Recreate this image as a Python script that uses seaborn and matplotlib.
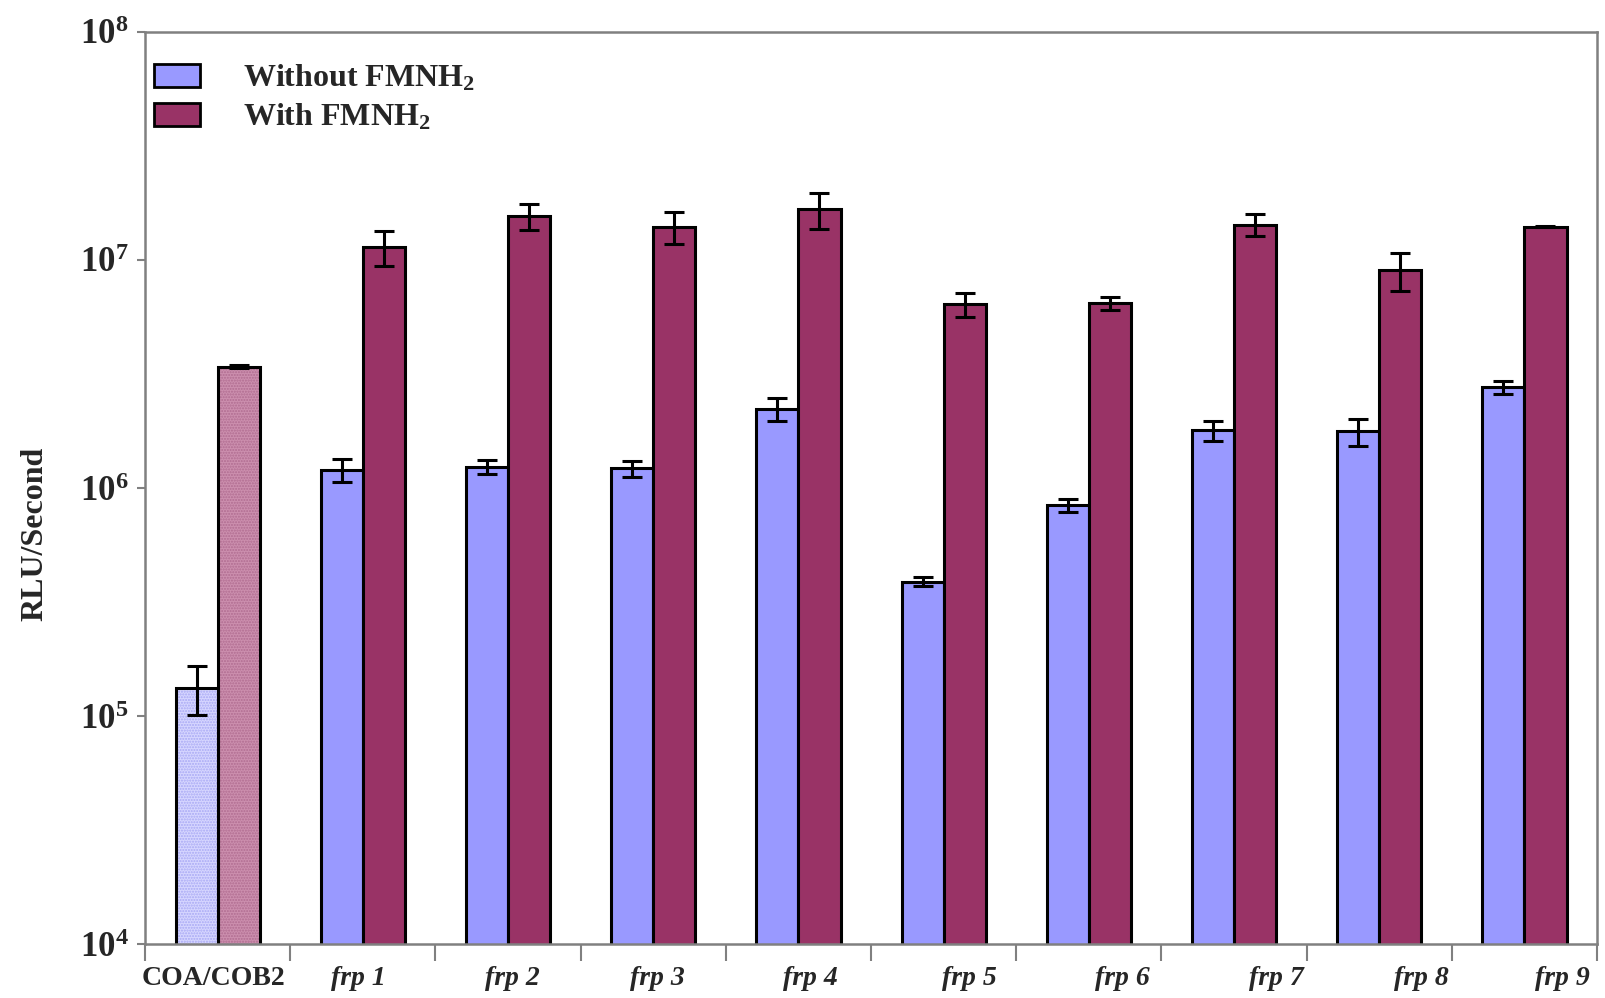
import numpy as np
import pandas as pd
import matplotlib
matplotlib.use("Agg")
import matplotlib.pyplot as plt
from matplotlib.patches import Rectangle
import seaborn as sns

# ---- data ----
categories = ["COA/COB2", "frp 1", "frp 2", "frp 3", "frp 4",
              "frp 5", "frp 6", "frp 7", "frp 8", "frp 9"]
series_names = ["Without FMNH$_2$", "With FMNH$_2$"]
without_vals = [1.33e5, 1.20e6, 1.24e6, 1.22e6, 2.23e6,
                3.88e5, 8.43e5, 1.79e6, 1.77e6, 2.77e6]
without_err = [3.2e4, 1.4e5, 9.0e4, 1.0e5, 2.6e5,
               1.8e4, 5.5e4, 1.8e5, 2.4e5, 1.9e5]
with_vals = [3.40e6, 1.14e7, 1.56e7, 1.40e7, 1.67e7,
             6.40e6, 6.46e6, 1.43e7, 9.00e6, 1.40e7]
with_err = [5.0e4, 2.0e6, 2.0e6, 2.3e6, 3.0e6,
            7.5e5, 4.5e5, 1.6e6, 1.7e6, 1.0e5]
y_ticks = [1e4, 1e5, 1e6, 1e7, 1e8]
y_label = "RLU/Second"

# ---- style ----
sns.set_theme(style="white")
plt.rcParams["font.family"] = ["Liberation Serif", "DejaVu Serif"]
plt.rcParams["font.weight"] = "bold"
plt.rcParams["mathtext.fontset"] = "custom"
plt.rcParams["mathtext.rm"] = "Liberation Serif:bold"
plt.rcParams["mathtext.bf"] = "Liberation Serif:bold"
plt.rcParams["mathtext.it"] = "Liberation Serif:bold:italic"
plt.rcParams["hatch.linewidth"] = 1.0

blue = "#9999FF"
maroon = "#993366"
light_blue = "#D6D6FF"
light_maroon = "#CC8FAE"

df = pd.DataFrame({
    "category": categories * 2,
    "series": [series_names[0]] * len(categories) + [series_names[1]] * len(categories),
    "value": without_vals + with_vals,
})

fig = plt.figure(figsize=(16.06, 9.98), dpi=100)
ax = fig.add_axes([0.0903, 0.054, 0.9041, 0.914])

sns.barplot(data=df, x="category", y="value", hue="series",
            hue_order=series_names, order=categories,
            palette=[blue, maroon], width=0.58, gap=0,
            errorbar=None, edgecolor="black", linewidth=2.2,
            saturation=1, ax=ax)
ax.set_yscale("log")
ax.set_ylim(y_ticks[0], y_ticks[-1])
ax.set_xlim(-0.5, len(categories) - 0.5)

# error bars at the bar centres
for cont, errs in zip(ax.containers, [without_err, with_err]):
    for patch, err in zip(cont.patches, errs):
        xc = patch.get_x() + patch.get_width() / 2
        ax.errorbar(xc, patch.get_height(), yerr=err, fmt="none",
                    ecolor="black", elinewidth=2.2, capsize=7.5,
                    capthick=2.2, zorder=5)

# control group drawn with lighter, stippled fills
for cont, face, dots in zip(ax.containers, [light_blue, light_maroon],
                            ["#A8A8F4", "#B06C90"]):
    p = cont.patches[0]
    p.set_facecolor(face)
    p.set_edgecolor(dots)
    p.set_hatch("......")
    p.set_linewidth(0)
    ax.add_patch(Rectangle((p.get_x(), p.get_y()), p.get_width(), p.get_height(),
                           facecolor="none", edgecolor="black", linewidth=2.2,
                           zorder=p.get_zorder() + 0.1))

# axes frame
for side in ["left", "right", "top", "bottom"]:
    ax.spines[side].set_visible(True)
    ax.spines[side].set_color("#808080")
    ax.spines[side].set_linewidth(1.8)

# y ticks
ax.set_yticks(y_ticks)
ax.set_yticklabels([f"$10^{{{int(np.log10(t))}}}$" for t in y_ticks])
ax.yaxis.set_minor_locator(matplotlib.ticker.NullLocator())
ax.tick_params(axis="y", which="major", direction="out", length=6, width=1.5,
               color="#808080", labelsize=25, pad=6, left=True)
ax.set_ylabel(y_label, fontsize=23, fontweight="bold")
ax.yaxis.set_label_coords(-0.066, 0.45)

# x ticks: marks on group boundaries, labels under each group
label_shift = [-0.03, -0.03, 0.03, 0.03, 0.08, 0.18, 0.23, 0.29, 0.29, 0.26]
ax.set_xticks(np.arange(-0.5, len(categories), 1.0), minor=True)
ax.set_xticks(np.arange(len(categories)) + np.array(label_shift))
ax.set_xticklabels(categories)
for lab, c in zip(ax.get_xticklabels(), categories):
    lab.set_fontsize(20)
    lab.set_fontweight("bold")
    if c.startswith("frp"):
        lab.set_fontstyle("italic")
ax.tick_params(axis="x", which="major", length=0, pad=16)
ax.tick_params(axis="x", which="minor", direction="out", length=12, width=1.5,
               color="#808080", bottom=True)
ax.set_xlabel("")

# legend
handles = [Rectangle((0, 0), 1, 1, facecolor=blue, edgecolor="black", linewidth=2),
           Rectangle((0, 0), 1, 1, facecolor=maroon, edgecolor="black", linewidth=2)]
ax.legend(handles, series_names, loc="upper left", bbox_to_anchor=(0.006, 0.966),
          frameon=False, prop={"weight": "bold", "size": 23},
          handlelength=1.45, handleheight=0.75, handletextpad=1.35,
          labelspacing=0.27, borderpad=0, borderaxespad=0)

fig.savefig("out.png", dpi=100)
